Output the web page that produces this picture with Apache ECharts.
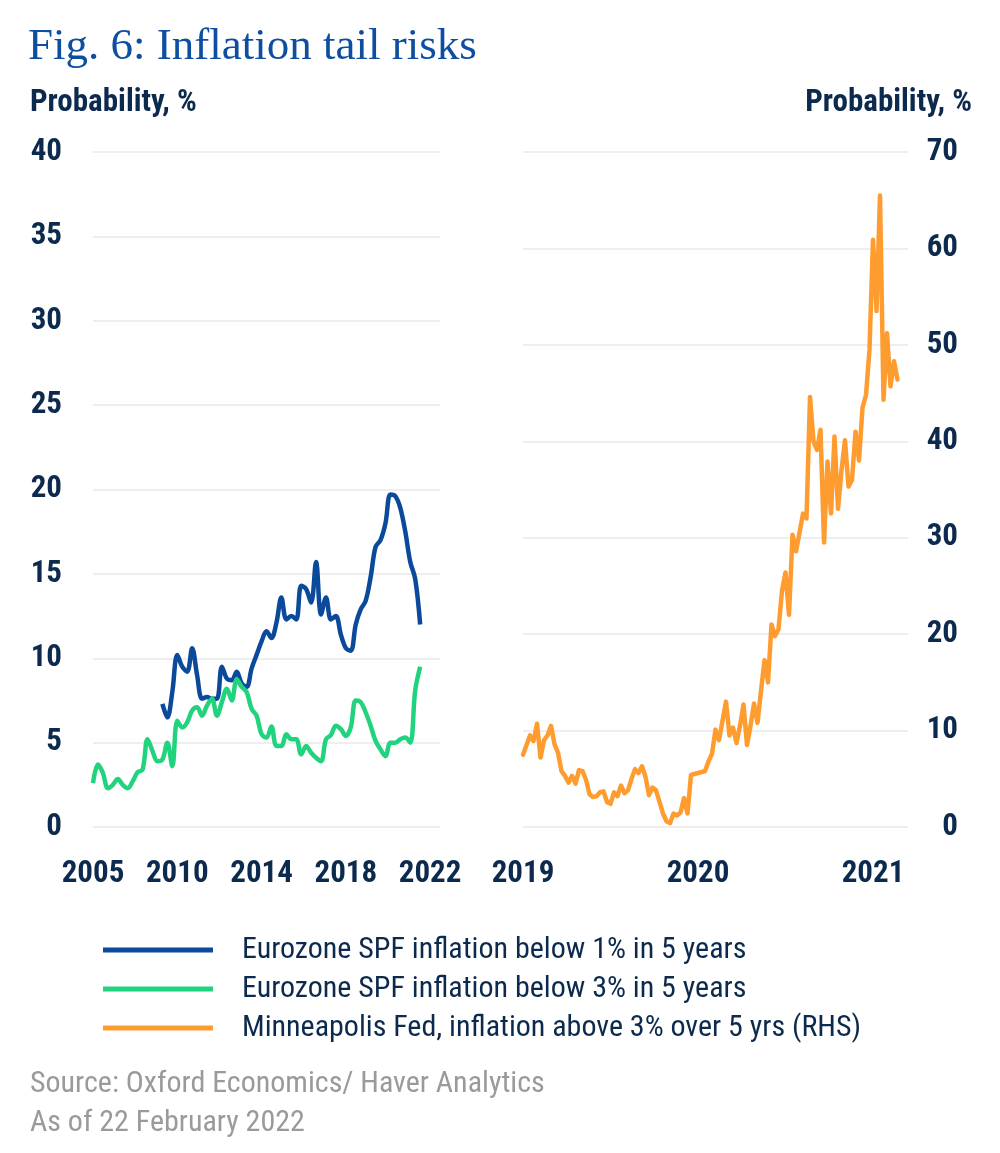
<!DOCTYPE html>
<html>
<head>
<meta charset="UTF-8">
<title>Inflation tail risks</title>
<script src="https://cdn.jsdelivr.net/npm/echarts@6/dist/echarts.min.js"></script>
<style>
html, body {
	margin: 0;
	padding: 0;
	background: #ffffff;
}

#main {
	width: 1000px;
	height: 1153px;
}
</style>
</head>
<body>
	<div id="main"></div>
	<script>
		// tick labels of the two x axes (evenly spaced, as in the original)
		var leftTicks = [ '2005', '2010', '2014', '2018', '2022' ];
		var rightTicks = [ '2019', '2020', '2021' ];

		// Eurozone SPF, probability inflation below 1% in 5 years
		var spfBelow1 = [ null, null, null, null, null, null, null, null, null, null,
				null, null, null, null, 7.3, 6.5, 8.0, 10.2, 9.5, 9.2,
				10.6, 9.0, 7.6, 7.7, 7.6, 7.6, 9.5, 8.8, 8.7, 9.2,
				8.5, 8.3, 9.4, 10.2, 11.0, 11.6, 11.2, 12.1, 13.6, 12.3,
				12.5, 12.3, 14.3, 14.1, 13.3, 15.7, 12.6, 13.6, 12.3, 12.5,
				11.4, 10.6, 10.45, 12.0, 12.9, 13.4, 14.8, 16.6, 17.0, 18.0,
				19.7, 19.6, 18.9, 17.5, 15.7, 14.7, 12.0 ];

		// Eurozone SPF, probability inflation below 3% in 5 years
		var spfBelow3 = [ 2.6, 3.7, 3.2, 2.3, 2.5, 2.85, 2.5, 2.3, 2.7, 3.25,
				3.4, 5.2, 4.5, 3.9, 4.0, 5.0, 3.6, 6.3, 5.9, 6.2,
				6.9, 7.1, 6.6, 7.2, 7.6, 6.6, 7.4, 8.2, 7.5, 8.75,
				8.3, 8.0, 7.0, 6.6, 5.5, 5.3, 5.95, 4.8, 4.8, 5.5,
				5.2, 5.2, 4.3, 4.8, 4.4, 4.1, 3.9, 5.2, 5.45, 6.0,
				5.8, 5.4, 5.9, 7.5, 7.4, 6.8, 6.0, 5.1, 4.6, 4.2,
				5.0, 5.0, 5.2, 5.3, 5.0, 8.1, 9.5 ];

		// Minneapolis Fed, probability inflation above 3% over 5 yrs (RHS)
		var mplsAbove3 = [ 7.5, 8.5, 9.5, 8.9, 10.7, 7.2, 9.0, 9.5, 10.5, 8.6,
				7.7, 5.8, 5.3, 4.6, 5.3, 4.5, 5.9, 5.8, 4.9, 3.4,
				3.1, 3.2, 3.6, 3.7, 2.6, 2.4, 3.6, 3.2, 4.3, 3.5,
				3.8, 5.0, 6.0, 5.6, 6.3, 5.2, 3.3, 4.1, 3.8, 2.6,
				1.4, 0.6, 0.4, 1.4, 1.2, 1.5, 3.0, 1.4, 5.4, 5.5,
				5.6, 5.7, 5.8, 6.8, 7.6, 10.1, 9.0, 11.0, 13.0, 9.5,
				10.3, 8.7, 10.5, 12.7, 8.5, 10.5, 12.8, 10.8, 14.1, 17.3,
				15.0, 21.0, 19.8, 20.5, 24.5, 26.4, 22.0, 30.3, 28.6, 30.5,
				32.5, 32.0, 44.6, 40.0, 39.1, 41.2, 29.5, 37.9, 32.5, 40.5,
				33.0, 37.0, 40.1, 35.3, 36.0, 41.0, 38.0, 43.5, 44.8, 49.5,
				60.9, 53.5, 65.5, 44.3, 51.2, 45.7, 48.3, 46.4 ];

		var NAVY = '#0c2a4d';
		var CONDENSED = "'Roboto Condensed', 'DejaVu Sans Condensed', sans-serif";

		// category lists: one label every n points, blanks in between
		function buildCats(ticks, every, total) {
			var cats = [];
			for (var i = 0; i < total; i++) {
				cats.push(i % every === 0 && ticks[i / every] ? ticks[i / every] : '');
			}
			return cats;
		}
		var leftCats = buildCats(leftTicks, 17, 71);
		var rightCats = buildCats(rightTicks, 50, 111);

		var tickText = {
			color : NAVY,
			fontFamily : CONDENSED,
			fontSize : 31,
			fontWeight : 'bold'
		};
		var gridLine = {
			show : true,
			lineStyle : {
				color : '#eeeeee',
				width : 2
			}
		};

		// free texts (axis units, source note)
		function note(text, x, y, align, size, weight, color) {
			return {
				type : 'text',
				x : x,
				y : y,
				silent : true,
				style : {
					text : text,
					align : align,
					verticalAlign : 'middle',
					font : weight + ' ' + size + 'px ' + CONDENSED,
					fill : color
				}
			};
		}

		var option = {
			animation : false,
			backgroundColor : '#ffffff',
			title : {
				text : 'Fig. 6: Inflation tail risks',
				left : 23,
				top : 20,
				textStyle : {
					fontFamily : "'Liberation Serif', 'DejaVu Serif', serif",
					fontSize : 45,
					fontWeight : 'normal',
					color : '#0d4ea0'
				}
			},
			graphic : [
					note('Probability, %', 30, 103, 'left', 31, 'bold', NAVY),
					note('Probability, %', 972, 103, 'right', 31, 'bold', NAVY),
					note('Source: Oxford Economics/ Haver Analytics', 30, 1084, 'left', 30, 'normal', '#9a9a9a'),
					note('As of 22 February 2022', 30, 1123, 'left', 30, 'normal', '#9a9a9a') ],
			legend : {
				orient : 'vertical',
				left : 98,
				top : 930,
				icon : 'rect',
				itemWidth : 110,
				itemHeight : 5,
				itemGap : 9,
				textStyle : {
					color : NAVY,
					fontFamily : CONDENSED,
					fontSize : 30,
					lineHeight : 30,
					padding : [ 0, 0, 0, 24 ]
				}
			},
			grid : [ {
				left : 93,
				right : 560,
				top : 152,
				bottom : 326
			}, {
				left : 523,
				right : 92,
				top : 152,
				bottom : 326
			} ],
			xAxis : [ {
				type : 'category',
				gridIndex : 0,
				data : leftCats,
				boundaryGap : false,
				axisLine : {
					show : false
				},
				axisTick : {
					show : false
				},
				axisLabel : Object.assign({
					interval : 16,
					showMinLabel : true,
					margin : 32
				}, tickText)
			}, {
				type : 'category',
				gridIndex : 1,
				data : rightCats,
				boundaryGap : false,
				axisLine : {
					show : false
				},
				axisTick : {
					show : false
				},
				axisLabel : Object.assign({
					interval : 49,
					showMinLabel : true,
					margin : 32
				}, tickText)
			} ],
			yAxis : [ {
				type : 'value',
				gridIndex : 0,
				min : 0,
				max : 40,
				interval : 5,
				axisLine : {
					show : false
				},
				axisTick : {
					show : false
				},
				splitLine : gridLine,
				axisLabel : Object.assign({
					margin : 31
				}, tickText)
			}, {
				type : 'value',
				gridIndex : 1,
				position : 'right',
				min : 0,
				max : 70,
				interval : 10,
				axisLine : {
					show : false
				},
				axisTick : {
					show : false
				},
				splitLine : gridLine,
				axisLabel : Object.assign({
					margin : 50,
					align : 'right'
				}, tickText)
			} ],
			series : [ {
				name : 'Eurozone SPF inflation below 1% in 5 years',
				type : 'line',
				xAxisIndex : 0,
				yAxisIndex : 0,
				data : spfBelow1,
				symbol : 'none',
				smooth : 0.35,
				color : '#0b4a9b',
				lineStyle : {
					width : 4.5
				}
			}, {
				name : 'Eurozone SPF inflation below 3% in 5 years',
				type : 'line',
				xAxisIndex : 0,
				yAxisIndex : 0,
				data : spfBelow3,
				symbol : 'none',
				smooth : 0.35,
				color : '#22d37e',
				lineStyle : {
					width : 4.5
				}
			}, {
				name : 'Minneapolis Fed, inflation above 3% over 5 yrs (RHS)',
				type : 'line',
				xAxisIndex : 1,
				yAxisIndex : 1,
				data : mplsAbove3,
				symbol : 'none',
				smooth : false,
				color : '#ff9c30',
				lineStyle : {
					width : 4.5,
					join : 'round',
					cap : 'round'
				}
			} ]
		};

		var mychart = echarts.init(document.getElementById('main'));
		mychart.setOption(option);
	</script>
</body>
</html>
